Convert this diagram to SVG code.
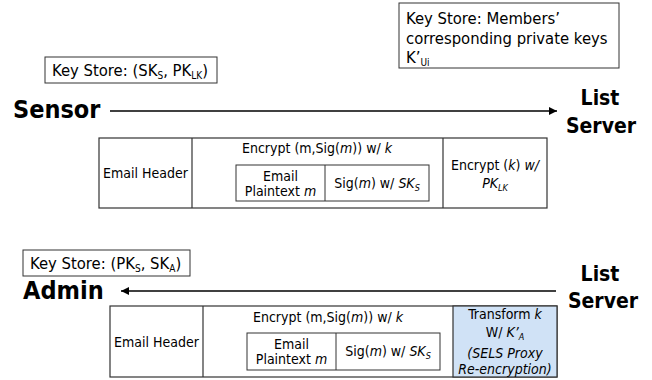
<svg xmlns="http://www.w3.org/2000/svg" width="652" height="380" viewBox="0 0 652 380">
<defs>
<style>
text{font-family:"DejaVu Sans Condensed","DejaVu Sans",sans-serif;fill:#000}
.t{font-size:14px}
.k{font-size:16.5px}
.big{font-size:25px;font-weight:bold}
.srv{font-size:21px;font-weight:bold}
.c{text-anchor:middle}
.i{font-style:italic}
.box{fill:#fff;stroke:#333;stroke-width:1}
.tbl{fill:#fff;stroke:#333;stroke-width:1.2}
.con{stroke:#000;stroke-width:1.5;fill:none}
</style>
<marker id="ah" viewBox="0 0 10 10" refX="10" refY="5" markerWidth="10" markerHeight="8" markerUnits="userSpaceOnUse" orient="auto">
<path d="M0,0 L10,5 L0,10 z" fill="#000"/>
</marker>
</defs>

<g id="connectors">
<line class="con" x1="110" y1="111" x2="557" y2="111" marker-end="url(#ah)"/>
<line class="con" x1="556" y1="291" x2="121" y2="291" marker-end="url(#ah)"/>
</g>

<g id="sensor-keystore">
<rect class="box" x="45" y="57" width="172" height="26"/>
<text class="k" x="52" y="76">Key Store: (SK<tspan font-size="10" dy="3">S</tspan><tspan dy="-3">, PK</tspan><tspan font-size="10" dy="3">LK</tspan><tspan dy="-3">)</tspan></text>
</g>

<g id="sensor">
<text class="big" x="13" y="118">Sensor</text>
</g>

<g id="server-keystore">
<rect class="box" x="399" y="3" width="220" height="65"/>
<text class="k" x="406" y="24">Key Store: Members’</text>
<text class="k" x="406" y="44">corresponding private keys</text>
<text class="k" x="406" y="63">K’<tspan font-size="10" dy="3">Ui</tspan></text>
</g>

<g id="list-server-1">
<text class="srv c" x="600" y="105">List</text>
<text class="srv c" x="601" y="133">Server</text>
</g>

<g id="message-1">
<rect class="tbl" x="99" y="138" width="448" height="70"/>
<line class="tbl" x1="192" y1="138" x2="192" y2="208"/>
<line class="tbl" x1="443" y1="138" x2="443" y2="208"/>
<text class="t c" x="145.5" y="178">Email Header</text>
<text class="t c" x="317" y="153">Encrypt (m,Sig(<tspan class="i">m</tspan>)) w/  <tspan class="i">k</tspan></text>
<rect class="box" x="236" y="165" width="193" height="36"/>
<line class="box" x1="325" y1="165" x2="325" y2="201"/>
<text class="t c" x="280.5" y="181">Email</text>
<text class="t c" x="280.5" y="196">Plaintext <tspan class="i">m</tspan></text>
<text class="t c" x="377" y="188">Sig(<tspan class="i">m</tspan>) w/ <tspan class="i">SK</tspan><tspan class="i" font-size="9" dy="3">S</tspan></text>
<text class="t c" x="495" y="170">Encrypt (<tspan class="i">k</tspan>) <tspan class="i">w/</tspan></text>
<text class="t c i" x="495" y="188">PK<tspan font-size="9" dy="3">LK</tspan></text>
</g>

<g id="admin-keystore">
<rect class="box" x="23" y="250" width="167" height="26"/>
<text class="k" x="30" y="269">Key Store: (PK<tspan font-size="10" dy="3">S</tspan><tspan dy="-3">, SK</tspan><tspan font-size="10" dy="3">A</tspan><tspan dy="-3">)</tspan></text>
</g>

<g id="admin">
<text class="big" x="23" y="299">Admin</text>
</g>

<g id="list-server-2">
<text class="srv c" x="600" y="281">List</text>
<text class="srv c" x="603" y="308">Server</text>
</g>

<g id="message-2">
<rect class="tbl" x="110" y="306" width="447" height="71"/>
<rect x="453" y="306" width="104" height="71" fill="#d0e2f6" stroke="#333" stroke-width="1.2"/>
<line class="tbl" x1="203" y1="306" x2="203" y2="377"/>
<text class="t c" x="156.5" y="347">Email Header</text>
<text class="t c" x="328" y="322">Encrypt (m,Sig(<tspan class="i">m</tspan>)) w/  <tspan class="i">k</tspan></text>
<rect class="box" x="247" y="333" width="193" height="37"/>
<line class="box" x1="336" y1="333" x2="336" y2="370"/>
<text class="t c" x="291.5" y="349">Email</text>
<text class="t c" x="291.5" y="364">Plaintext <tspan class="i">m</tspan></text>
<text class="t c" x="388" y="356">Sig(<tspan class="i">m</tspan>) w/ <tspan class="i">SK</tspan><tspan class="i" font-size="9" dy="3">S</tspan></text>
<text class="t c" x="505" y="319">Transform <tspan class="i">k</tspan></text>
<text class="t c" x="505" y="337">W/ <tspan class="i">K’</tspan><tspan class="i" font-size="9" dy="3">A</tspan></text>
<text class="t c i" x="505" y="358" font-size="12.5">(SELS Proxy</text>
<text class="t c i" x="505" y="374" font-size="12.5">Re-encryption)</text>
</g>
</svg>
